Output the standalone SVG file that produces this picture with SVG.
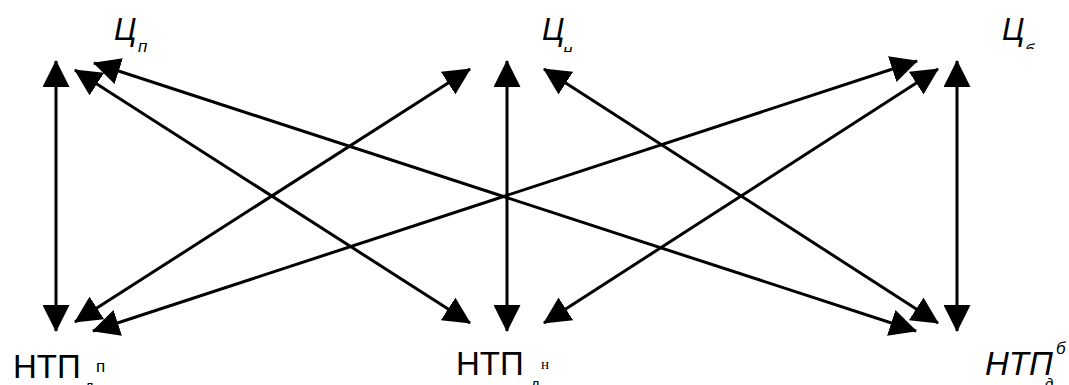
<svg xmlns="http://www.w3.org/2000/svg" width="1069" height="385" viewBox="0 0 1069 385">
<style>
.c line{stroke:#000;stroke-width:3;fill:none}
.lbl{font-family:"Liberation Sans",Arial,sans-serif;fill:#000}
.it{font-style:italic}
.ser{font-family:"Liberation Serif","Times New Roman",serif}
</style>
<defs>
<marker id="ah" viewBox="0 0 27 27" refX="26" refY="13.5" markerWidth="27" markerHeight="27" markerUnits="userSpaceOnUse" orient="auto-start-reverse">
<path d="M0,0 L27,13.5 L0,27 z" fill="#000"/>
</marker>
<clipPath id="cn"><rect x="555" y="0" width="30" height="52"/></clipPath>
<clipPath id="cb"><rect x="1020" y="0" width="30" height="49"/></clipPath>
</defs>
<rect width="1069" height="385" fill="#fff"/>
<g class="c">
<line x1="56" y1="61" x2="56" y2="331" marker-start="url(#ah)" marker-end="url(#ah)"/>
<line x1="507" y1="61" x2="507" y2="331" marker-start="url(#ah)" marker-end="url(#ah)"/>
<line x1="957" y1="61" x2="957" y2="331" marker-start="url(#ah)" marker-end="url(#ah)"/>
<line x1="75" y1="70" x2="470" y2="323" marker-start="url(#ah)" marker-end="url(#ah)"/>
<line x1="75" y1="322" x2="470" y2="69" marker-start="url(#ah)" marker-end="url(#ah)"/>
<line x1="544" y1="69" x2="938" y2="323" marker-start="url(#ah)" marker-end="url(#ah)"/>
<line x1="544" y1="323" x2="938" y2="69" marker-start="url(#ah)" marker-end="url(#ah)"/>
<line x1="94" y1="63" x2="916" y2="331" marker-start="url(#ah)" marker-end="url(#ah)"/>
<line x1="93" y1="331" x2="917" y2="61" marker-start="url(#ah)" marker-end="url(#ah)"/>
</g>
<g id="node-cp">
<text class="lbl it" x="114" y="40" font-size="31">Ц</text>
<text class="lbl it" x="138" y="52" font-size="17">п</text>
</g>
<g id="node-cn">
<text class="lbl it" x="542" y="40" font-size="31">Ц</text>
<text class="lbl it" x="563" y="56" font-size="17" clip-path="url(#cn)">н</text>
</g>
<g id="node-cb">
<text class="lbl it" x="1002" y="40" font-size="31">Ц</text>
<text class="lbl it" x="1025" y="56" font-size="17" clip-path="url(#cb)">б</text>
</g>
<g id="node-ntp-p">
<text class="lbl" x="13" y="378" font-size="33">НТП</text>
<text class="lbl" x="96" y="372" font-size="17">п</text>
<text class="lbl" x="85" y="391" font-size="15">д</text>
</g>
<g id="node-ntp-n">
<text class="lbl" x="456" y="375" font-size="33">НТП</text>
<text class="lbl ser" x="541" y="369" font-size="15">н</text>
<text class="lbl" x="531" y="389" font-size="15">д</text>
</g>
<g id="node-ntp-b">
<text class="lbl it" x="985" y="375" font-size="33">НТП</text>
<text class="lbl it" x="1056" y="354" font-size="17">б</text>
<text class="lbl it" x="1045" y="389" font-size="15">д</text>
</g>
</svg>
